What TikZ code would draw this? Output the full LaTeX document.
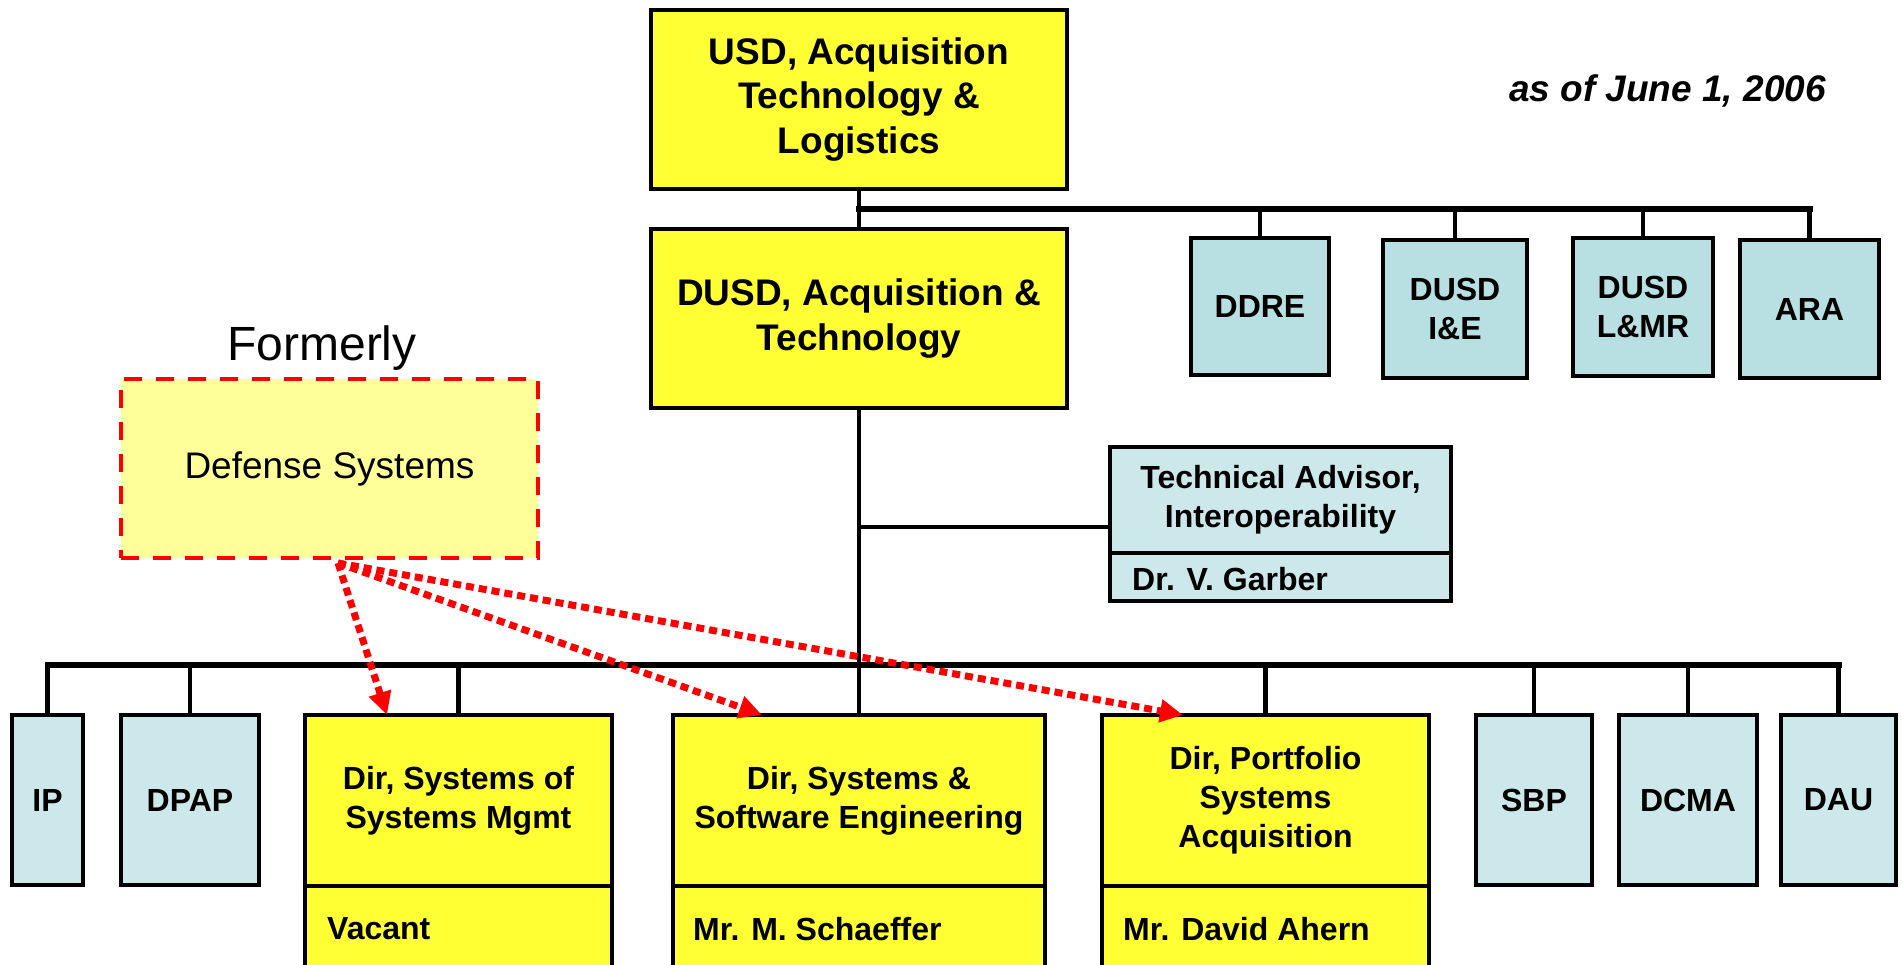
\documentclass[tikz,border=0pt]{standalone}
\usepackage{fontspec}
\setmainfont{Liberation Sans}
\usetikzlibrary{arrows.meta,calc}
\definecolor{yel}{HTML}{FFFF33}
\definecolor{paleyel}{HTML}{FFFF99}
\definecolor{blueA}{HTML}{B8DFE1}
\definecolor{blueB}{HTML}{CDE8EA}
\definecolor{dsred}{HTML}{FF0000}
\begin{document}
\begin{tikzpicture}[x=1pt,y=-1pt,
  box/.style={draw=black, line width=4.5pt, inner sep=0pt, outer sep=0pt, align=center,
    font=\bfseries\fontsize{32}{38.8}\selectfont},
  bigbox/.style={box, fill=yel, font=\bfseries\fontsize{37}{44.5}\selectfont},
  ybox/.style={box, fill=yel},
  bbox/.style={box, fill=blueA},
  lbox/.style={box, fill=blueB},
  namef/.style={inner sep=0pt, font=\bfseries\fontsize{32}{38.8}\selectfont},
  conn/.style={draw=black, line width=4.5pt},
  barline/.style={draw=black, line width=6pt, line cap=rect},
  thinconn/.style={draw=black, line width=3.5pt},
  redarrow/.style={draw=dsred, line width=7pt, dash pattern=on 8pt off 5pt,
    -{Triangle[length=23pt,width=22pt]}, dsred}
]
\useasboundingbox (0,0) rectangle (1902,965);
\clip (0,0) rectangle (1902,965);

% top part
\node[bigbox, minimum width=416, minimum height=179] (usd) at (859,99.5)
  {USD, Acquisition\\Technology \&\\Logistics};
\node[bigbox, minimum width=416, minimum height=179] (dusd) at (859,318.5)
  {DUSD, Acquisition \&\\Technology};
\node[bbox, minimum width=138, minimum height=137] (ddre) at (1260,306.5) {DDRE};
\node[bbox, minimum width=144, minimum height=138] (iae) at (1455,309) {DUSD\\I\&E};
\node[bbox, minimum width=140, minimum height=138] (lmr) at (1643,307) {DUSD\\L\&MR};
\node[bbox, minimum width=139, minimum height=138] (ara) at (1809.5,309) {ARA};

\node[font=\bfseries\itshape\fontsize{37}{44.5}\selectfont, inner sep=0pt] (date) at (1667.5,91) {as of June 1, 2006};

% technical advisor
\node[lbox, minimum width=341, minimum height=106] (techA) at (1280.5,500)
  {Technical Advisor,\\Interoperability};
\node[lbox, minimum width=341, minimum height=48] (techB) at (1280.5,577) {};
\node[namef, anchor=west] (garber) at (1132,579) {Dr. V. Garber};

% formerly
\node[font=\fontsize{48}{56}\selectfont, inner sep=0pt] (formerly) at (322,348) {Formerly};
\node[draw=dsred, line width=4pt, dash pattern=on 18pt off 14pt, fill=paleyel,
  minimum width=417, minimum height=179, inner sep=0pt,
  font=\fontsize{37}{44.5}\selectfont] (ds) at (329.5,468.5) {Defense Systems};

% bottom row
\node[lbox, minimum width=71, minimum height=170] (ip) at (47.5,800) {IP};
\node[lbox, minimum width=138, minimum height=170] (dpap) at (190,800) {DPAP};
\node[ybox, minimum width=307, minimum height=171] (sosA) at (458.5,800.5)
  {Dir, Systems of\\Systems Mgmt};
\node[ybox, minimum width=307, minimum height=104] (sosB) at (458.5,938) {};
\node[ybox, minimum width=372, minimum height=171] (sse) at (859,800.5)
  {Dir, Systems \&\\Software Engineering};
\node[ybox, minimum width=372, minimum height=104] (sseB) at (859,938) {};
\node[ybox, minimum width=327, minimum height=171] (psa) at (1265.5,800.5)
  {Dir, Portfolio\\Systems\\Acquisition};
\node[ybox, minimum width=327, minimum height=104] (psaB) at (1265.5,938) {};
\node[lbox, minimum width=116, minimum height=170] (sbp) at (1534,800) {SBP};
\node[lbox, minimum width=138, minimum height=170] (dcma) at (1688,800) {DCMA};
\node[lbox, minimum width=115, minimum height=170] (dau) at (1838.5,800) {DAU};

\node[namef, anchor=west] (vacant) at (327,929) {Vacant};
\node[namef, anchor=west] (schaeffer) at (693,929) {Mr. M. Schaeffer};
\node[namef, anchor=west] (ahern) at (1123,929) {Mr. David Ahern};

% connectors top
\coordinate (tb) at (859,209);
\coordinate (bb) at (859,665);
\coordinate (tj) at (859,527);
\draw[conn] (usd.south) -- (dusd.north);
\draw[barline] (tb) -- (tb -| ara.north);
\foreach \n in {ddre,iae,lmr,ara} \draw[conn] (\n.north |- tb) -- (\n.north);

% connectors bottom
\draw[conn] (dusd.south) -- (sse.north);
\draw[thinconn] (tj) -- (tj -| techA.west);
\draw[barline] (bb -| ip.north) -- (bb -| dau.north);
\foreach \n in {ip,dpap,sosA,psa,sbp,dcma,dau} \draw[conn] (\n.north |- bb) -- (\n.north);

% red arrows
\coordinate (dsout) at (338,563);
\draw[redarrow] (dsout) -- ([xshift=82pt]sosA.north west);
\draw[redarrow] (dsout) -- ([xshift=89pt]sse.north west);
\draw[redarrow] (dsout) -- ([xshift=81pt]psa.north west);
\end{tikzpicture}
\end{document}
